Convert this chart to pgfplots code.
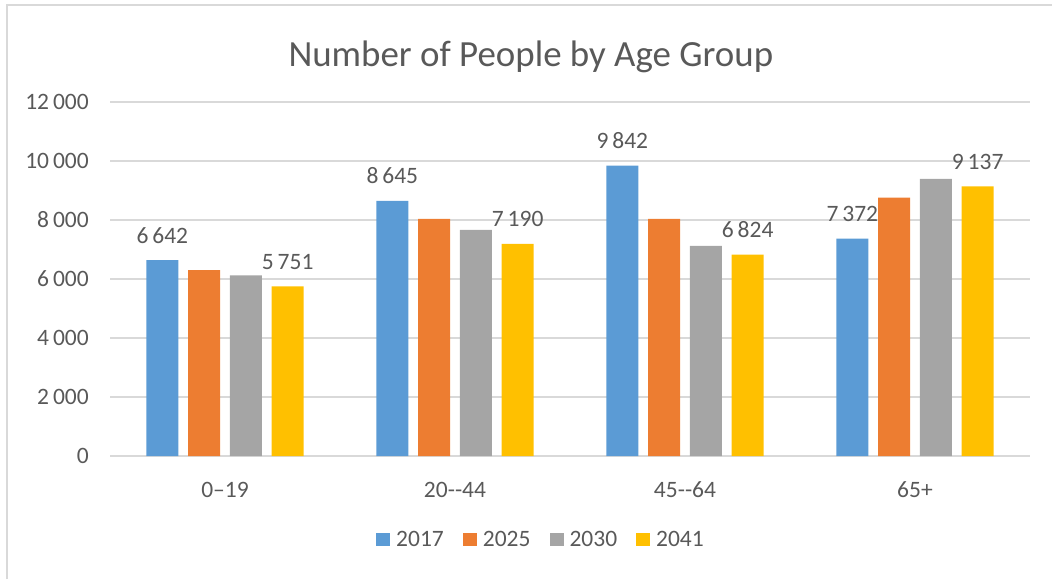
\documentclass[border=0pt]{standalone}
\usepackage{fontspec}
\setmainfont{Carlito}
\usepackage{pgfplots}
\pgfplotsset{compat=1.18}
\definecolor{cBlue}{HTML}{5B9BD5}
\definecolor{cOrange}{HTML}{ED7D31}
\definecolor{cGray}{HTML}{A5A5A5}
\definecolor{cGold}{HTML}{FFC000}
\definecolor{txt}{HTML}{595959}
\definecolor{gridc}{HTML}{D9D9D9}
\newcommand\lab{\fontsize{23.5}{28}\selectfont}
\begin{document}
\begin{tikzpicture}
\path[use as bounding box] (0,0) rectangle (1052pt,579pt);
\draw[gridc, line width=1.6pt] (7pt,0) -- (7pt,574pt) -- (1052pt,574pt);
\node[anchor=base, text=txt, inner sep=0pt, font=\fontsize{36.9}{44}\selectfont] at (530.8pt,512.3pt) {Number of People by Age Group};
\begin{axis}[
  at={(110pt,123pt)}, anchor=south west,
  scale only axis, width=920pt, height=354pt,
  ybar=9.8pt, bar width=32pt,
  xmin=-0.5, xmax=3.5, ymin=0, ymax=12000,
  xtick=data, xticklabels={0–19, 20-{}-44, 45-{}-64, 65+},
  ytick={0,2000,4000,6000,8000,10000,12000},
  scaled y ticks=false,
  /pgf/number format/.cd, fixed, precision=0, 1000 sep={\,}, assume math mode=true,
  /pgfplots/.cd,
  axis line style={draw=none},
  major tick length=0pt,
  ymajorgrids, grid style={gridc, line width=1.6pt},
  tick label style={text=txt, font=\lab, inner sep=0pt},
  yticklabel style={anchor=east, xshift=-21pt},
  xticklabel style={anchor=base, yshift=-41.4pt},
  legend columns=4,
  legend style={at={(0.4685,-0.237)}, anchor=center, draw=none, fill=none,
    font=\lab, text=txt,
    /tikz/every even column/.append style={column sep=17pt}},
  legend image code/.code={\path[#1] (0pt,-6pt) rectangle (14pt,7pt); \path (18pt,0pt);},
  every node near coord/.append style={text=txt, font=\lab, anchor=base, inner sep=0pt, yshift=17pt},
  nodes near coords={\pgfkeys{/pgf/number format/1000 sep={\ }}\pgfmathprintnumber{\pgfplotspointmeta}},
]
\addplot[fill=cBlue, draw=none, nodes near coords] coordinates {(0,6642) (1,8645) (2,9842) (3,7372)};
\addplot[fill=cOrange, draw=none, nodes near coords={}] coordinates {(0,6303) (1,8041) (2,8035) (3,8756)};
\addplot[fill=cGray, draw=none, nodes near coords={}] coordinates {(0,6119) (1,7666) (2,7121) (3,9390)};
\addplot[fill=cGold, draw=none, nodes near coords] coordinates {(0,5751) (1,7190) (2,6824) (3,9137)};
\legend{2017,2025,2030,2041}
\end{axis}
\end{tikzpicture}
\end{document}
